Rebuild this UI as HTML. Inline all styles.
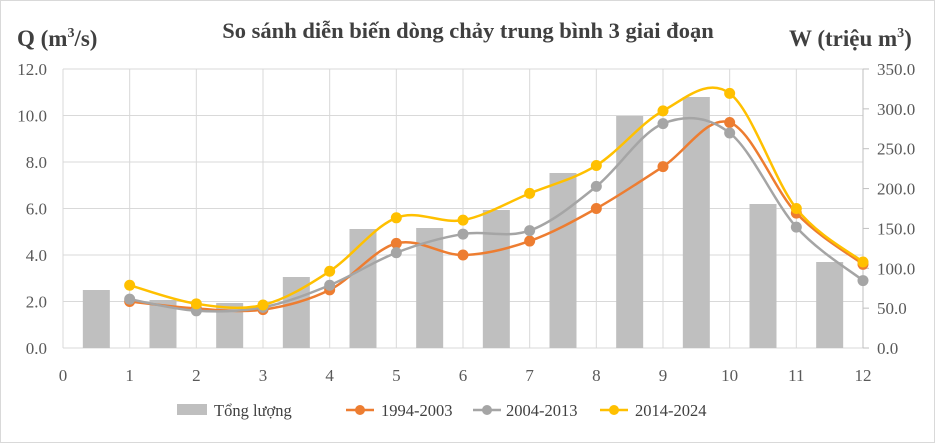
<!DOCTYPE html>
<html><head><meta charset="utf-8"><style>
body{margin:0;background:#fff;}
svg{display:block;font-family:"Liberation Serif",serif;}
</style></head><body>
<svg id="s" width="935" height="443" xmlns="http://www.w3.org/2000/svg">
<rect x="0.5" y="0.5" width="934" height="442" fill="#fff" stroke="#d9d9d9"/>
<text x="468" y="38" text-anchor="middle" font-size="22.5" font-weight="bold" fill="#404040">So sánh diễn biến dòng chảy trung bình 3 giai đoạn</text>
<text x="17" y="46" font-size="23" font-weight="bold" fill="#404040">Q (m<tspan font-size="14" dy="-9">3</tspan><tspan dy="9">/s)</tspan></text>
<text x="789" y="46" font-size="23" font-weight="bold" fill="#404040">W (triệu m<tspan font-size="14" dy="-9">3</tspan><tspan dy="9">)</tspan></text>
<g id="g"></g>
<g font-size="16.5" fill="#404040">
<rect x="177" y="404" width="30" height="11" fill="#bfbfbf"/><text x="214" y="416">Tổng lượng</text>
<line x1="346" y1="410" x2="374" y2="410" stroke="#ed7d31" stroke-width="2.5"/><circle cx="360" cy="410" r="5" fill="#ed7d31"/><text x="381" y="416">1994-2003</text>
<line x1="473" y1="410" x2="501" y2="410" stroke="#a5a5a5" stroke-width="2.5"/><circle cx="487" cy="410" r="5" fill="#a5a5a5"/><text x="506" y="416">2004-2013</text>
<line x1="600" y1="410" x2="628" y2="410" stroke="#ffc000" stroke-width="2.5"/><circle cx="614" cy="410" r="5" fill="#ffc000"/><text x="635" y="416">2014-2024</text>
</g>
</svg>
<script>
var g=document.getElementById('g'),h='';
var X0=63,XW=800/12,Y0=348,YU=279/12;
function X(v){return X0+v*XW}function Y(v){return Y0-v*YU}
for(var i=0;i<=6;i++){var y=Y(i*2);h+='<line x1="63" x2="863" y1="'+y+'" y2="'+y+'" stroke="#d9d9d9"/>';
h+='<text x="47" y="'+(y+6)+'" font-size="17" fill="#595959" text-anchor="end">'+(i*2).toFixed(1)+'</text>';}
for(var i=0;i<=7;i++){var y=Y0-i*279/7;h+='<line x1="863" x2="869" y1="'+y+'" y2="'+y+'" stroke="#bfbfbf"/>';
h+='<text x="877" y="'+(y+6)+'" font-size="17" fill="#595959">'+(i*50).toFixed(1)+'</text>';}
for(var i=0;i<=12;i++){var x=X(i);h+='<line x1="'+x+'" x2="'+x+'" y1="69" y2="348" stroke="#d9d9d9"/>';
h+='<text x="'+x+'" y="381" font-size="17" fill="#595959" text-anchor="middle">'+i+'</text>';}
h+='<line x1="863" x2="863" y1="69" y2="348" stroke="#bfbfbf"/>';
var tops=[290,300,303,277,229,228,210,173,116,97,204,262];
tops.forEach(function(t,i){var x=X(i+0.5)-13.5;h+='<rect x="'+x+'" y="'+t+'" width="27" height="'+(Y0-t)+'" fill="#bfbfbf"/>';});
function series(d,c){var p=d.map(function(v,i){return [X(i+1),Y(v)]});var s='M'+p[0];
for(var i=0;i<p.length-1;i++){var a=p[i-1]||p[i],b=p[i],e=p[i+1],f=p[i+2]||e;
s+=' C'+(b[0]+(e[0]-a[0])/6)+','+(b[1]+(e[1]-a[1])/6)+' '+(e[0]-(f[0]-b[0])/6)+','+(e[1]-(f[1]-b[1])/6)+' '+e[0]+','+e[1];}
h+='<path d="'+s+'" fill="none" stroke="'+c+'" stroke-width="2.5"/>';
p.forEach(function(q){h+='<circle cx="'+q[0]+'" cy="'+q[1]+'" r="5.5" fill="'+c+'"/>'});}
series([2.0,1.7,1.65,2.5,4.5,4.0,4.6,6.0,7.8,9.7,5.8,3.6],'#ed7d31');
series([2.1,1.6,1.75,2.7,4.1,4.9,5.05,6.95,9.65,9.25,5.2,2.9],'#a5a5a5');
series([2.7,1.9,1.85,3.3,5.6,5.5,6.65,7.85,10.2,10.95,6.0,3.7],'#ffc000');
g.innerHTML=h;
</script>
</body></html>
